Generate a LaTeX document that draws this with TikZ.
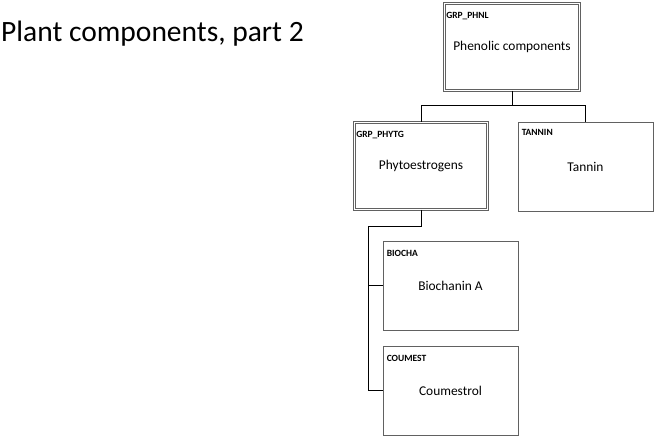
\documentclass[tikz,border=0pt]{standalone}
\usepackage{fontspec}
\setmainfont{Carlito}
\begin{document}
\begin{tikzpicture}[x=1pt,y=-1pt,
  box/.style={draw=black!62, line width=0.9pt, fill=white, inner sep=0pt, align=center,
    font=\fontsize{13.4}{15}\selectfont},
  grpbox/.style={box, double=white, double distance=1.4pt},
  code/.style={anchor=base west, inner sep=0pt, font=\fontsize{9.5}{11}\selectfont\bfseries},
  conn/.style={draw=black, line width=0.9pt}]
\fill[white] (0,0) rectangle (654,437);
\useasboundingbox (0,0) rectangle (654,437);
\node[anchor=base west, inner sep=0pt, font=\fontsize{29.5}{33}\selectfont] (title) at (1,41) {Plant components, part 2};
% boxes
\node[grpbox, minimum width=135, minimum height=87] (phnl) at (512,47) {Phenolic components};
\node[grpbox, minimum width=133, minimum height=87] (phytg) at (421,166) {Phytoestrogens};
\node[box, minimum width=135, minimum height=89] (tannin) at (585.5,166.5) {Tannin};
\node[box, minimum width=135, minimum height=89] (biocha) at (450.5,285.5) {Biochanin A};
\node[box, minimum width=135, minimum height=89] (coumest) at (450.5,390.5) {Coumestrol};
% code labels
\node[code] (lphnl) at ([shift={(2,15)}]phnl.north west) {GRP\_PHNL};
\node[code] (lphytg) at ([shift={(2,15)}]phytg.north west) {GRP\_PHYTG};
\node[code] (ltannin) at ([shift={(4,14)}]tannin.north west) {TANNIN};
\node[code] (lbiocha) at ([shift={(4,16)}]biocha.north west) {BIOCHA};
\node[code] (lcoumest) at ([shift={(4,16)}]coumest.north west) {COUMEST};
% connectors
\coordinate (j1) at (512,105);
\coordinate (j2) at (368,226);
\draw[conn] (phnl.south) -- (j1) -| (phytg.north);
\draw[conn] (j1) -| (tannin.north);
\draw[conn] (phytg.south) |- (j2) |- (biocha.west);
\draw[conn] (j2) |- (coumest.west);
\end{tikzpicture}
\end{document}
